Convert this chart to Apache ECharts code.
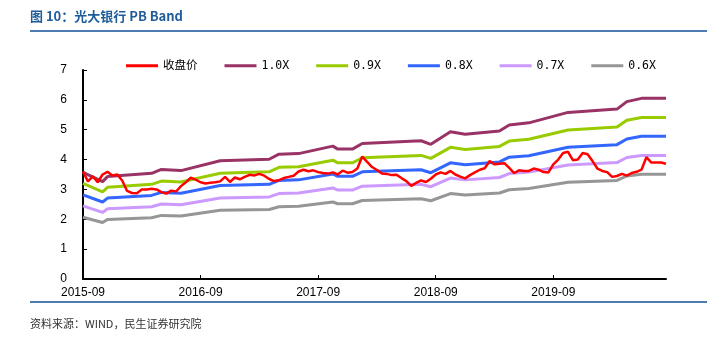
<!DOCTYPE html>
<html>
<head>
<meta charset="utf-8">
<script src="https://cdn.jsdelivr.net/npm/echarts@6/dist/echarts.min.js"></script>
<style>
  html, body { margin: 0; padding: 0; background: #fff; }
  #pb_band { width: 707px; height: 352px; }
</style>
</head>
<body>
<div id="pb_band"></div>
<script>
// 半月一个点：2015-09 上半月 ~ 2020-08 下半月
var categories = [];
for (var y = 2015, m = 9; categories.length < 120; ) {
  var mm = (m < 10 ? '0' : '') + m;
  categories.push(y + '-' + mm + '-01', y + '-' + mm + '-16');
  m++;
  if (m > 12) { m = 1; y++; }
}

// 收盘价
var closePrice = [
  3.60, 3.27, 3.44, 3.24, 3.50, 3.59, 3.47, 3.50, 3.30, 2.95,
  2.88, 2.87, 3.00, 3.00, 3.02, 3.00, 2.91, 2.86, 2.96, 2.93,
  3.11, 3.24, 3.39, 3.33, 3.24, 3.20, 3.22, 3.24, 3.27, 3.42,
  3.25, 3.40, 3.34, 3.42, 3.49, 3.47, 3.52, 3.46, 3.35, 3.28,
  3.31, 3.38, 3.42, 3.46, 3.60, 3.66, 3.61, 3.64, 3.58, 3.55,
  3.53, 3.57, 3.50, 3.63, 3.56, 3.58, 3.70, 4.10, 3.92, 3.75,
  3.65, 3.53, 3.52, 3.48, 3.49, 3.38, 3.28, 3.12, 3.22, 3.30,
  3.25, 3.36, 3.50, 3.57, 3.52, 3.62, 3.50, 3.43, 3.37, 3.48,
  3.57, 3.66, 3.71, 3.95, 3.84, 3.86, 3.88, 3.72, 3.55, 3.64,
  3.62, 3.62, 3.70, 3.66, 3.58, 3.57, 3.84, 4.00, 4.22, 4.26,
  3.98, 4.00, 4.22, 4.18, 3.95, 3.70, 3.62, 3.58, 3.42, 3.45,
  3.52, 3.46, 3.55, 3.59, 3.66, 4.08, 3.90, 3.90, 3.90, 3.86
];

// PB band 拐点（categories 下标）
var bandIdx = [0, 4, 5, 14, 16, 20, 28, 38, 40, 44, 51, 52, 55, 57, 69, 71, 75, 78, 85, 87, 91, 99, 109, 111, 114, 119];
var band10 = [3.57, 3.26, 3.43, 3.54, 3.67, 3.63, 3.96, 4.01, 4.18, 4.20, 4.45, 4.35, 4.35, 4.54, 4.63, 4.51, 4.93, 4.85, 4.96, 5.16, 5.23, 5.58, 5.69, 5.94, 6.05, 6.05];
var band09 = [3.20, 2.92, 3.07, 3.17, 3.28, 3.25, 3.54, 3.59, 3.74, 3.76, 3.98, 3.89, 3.89, 4.06, 4.14, 4.04, 4.41, 4.34, 4.44, 4.62, 4.68, 4.99, 5.09, 5.32, 5.41, 5.41];
var band08 = [2.82, 2.58, 2.71, 2.80, 2.90, 2.87, 3.13, 3.17, 3.30, 3.32, 3.52, 3.44, 3.44, 3.59, 3.66, 3.56, 3.89, 3.83, 3.92, 4.08, 4.13, 4.41, 4.50, 4.69, 4.78, 4.78];
var band07 = [2.45, 2.23, 2.35, 2.42, 2.51, 2.49, 2.71, 2.75, 2.86, 2.88, 3.05, 2.98, 2.98, 3.11, 3.17, 3.09, 3.38, 3.32, 3.40, 3.53, 3.58, 3.82, 3.90, 4.07, 4.14, 4.14];
var band06 = [2.07, 1.89, 1.99, 2.05, 2.13, 2.11, 2.30, 2.33, 2.42, 2.44, 2.58, 2.52, 2.52, 2.63, 2.69, 2.62, 2.86, 2.81, 2.88, 2.99, 3.03, 3.24, 3.30, 3.45, 3.51, 3.51];

var yTicks = [0, 1, 2, 3, 4, 5, 6, 7];

var seriesNames = ['收盘价', '1.0X', '0.9X', '0.8X', '0.7X', '0.6X'];
var seriesColors = ['#FF0000', '#993366', '#99CC00', '#3366FF', '#CC99FF', '#969696'];

function toPairs (vals) {
  var arr = [];
  for (var i = 0; i < bandIdx.length; i++) {
    arr.push([bandIdx[i], vals[i]]);
  }
  return arr;
}

var bands = [band10, band09, band08, band07, band06];
var series_list = [];
for (var i = 0; i < bands.length; i++) {
  series_list.push({
    name: seriesNames[i + 1],
    type: 'line',
    showSymbol: false,
    data: toPairs(bands[i]),
    lineStyle: { width: 3, color: seriesColors[i + 1] },
    z: 2
  });
}
series_list.unshift({
  name: '收盘价',
  type: 'line',
  showSymbol: false,
  data: closePrice,
  lineStyle: { width: 2.5, color: seriesColors[0] },
  z: 5
});

var chart = echarts.init(document.getElementById('pb_band'));
chart.setOption({
  animation: false,
  color: seriesColors,
  graphic: [
    { type: 'text', left: 30, top: 10,
      style: { text: '图 10：光大银行 PB Band', fill: '#1F5C99', font: 'bold 13px "Noto Sans CJK SC", sans-serif' } },
    { type: 'line', shape: { x1: 30, y1: 31, x2: 707, y2: 31 }, style: { stroke: '#4F7CB0', lineWidth: 2 } },
    { type: 'line', shape: { x1: 30, y1: 302, x2: 707, y2: 302 }, style: { stroke: '#4F7CB0', lineWidth: 2 } },
    { type: 'text', left: 30, top: 318,
      style: { text: '资料来源：WIND，民生证券研究院', fill: '#333', font: '11px "Noto Sans CJK SC", sans-serif' } }
  ],
  legend: {
    data: seriesNames,
    left: 121,
    top: 55,
    icon: 'rect',
    itemWidth: 32,
    itemHeight: 3,
    itemGap: 27,
    textStyle: { fontSize: 11.5, color: '#000', fontFamily: '"DejaVu Sans Mono", "Noto Sans CJK SC", monospace' }
  },
  grid: { left: 83, right: 41, top: 70, bottom: 73 },
  xAxis: {
    type: 'category',
    data: categories,
    boundaryGap: false,
    axisLine: { lineStyle: { color: '#000', width: 2 } },
    axisTick: {
      inside: true,
      length: 4,
      interval: function (index) { return index % 24 === 0; },
      lineStyle: { color: '#000' }
    },
    axisLabel: {
      interval: function (index) { return index % 24 === 0; },
      formatter: function (v) { return v.slice(0, 7); },
      color: '#000',
      fontSize: 12,
      fontFamily: 'Arial, "Liberation Sans", sans-serif',
      margin: 8
    },
    splitLine: { show: false }
  },
  yAxis: {
    type: 'value',
    min: yTicks[0],
    max: yTicks[yTicks.length - 1],
    interval: 1,
    axisLine: { show: true, lineStyle: { color: '#000', width: 2 } },
    axisTick: { show: true, inside: true, length: 4, lineStyle: { color: '#000' } },
    axisLabel: { color: '#000', fontSize: 12, margin: 16, fontFamily: 'Arial, "Liberation Sans", sans-serif' },
    splitLine: { show: false }
  },
  series: series_list
});
</script>
</body>
</html>
